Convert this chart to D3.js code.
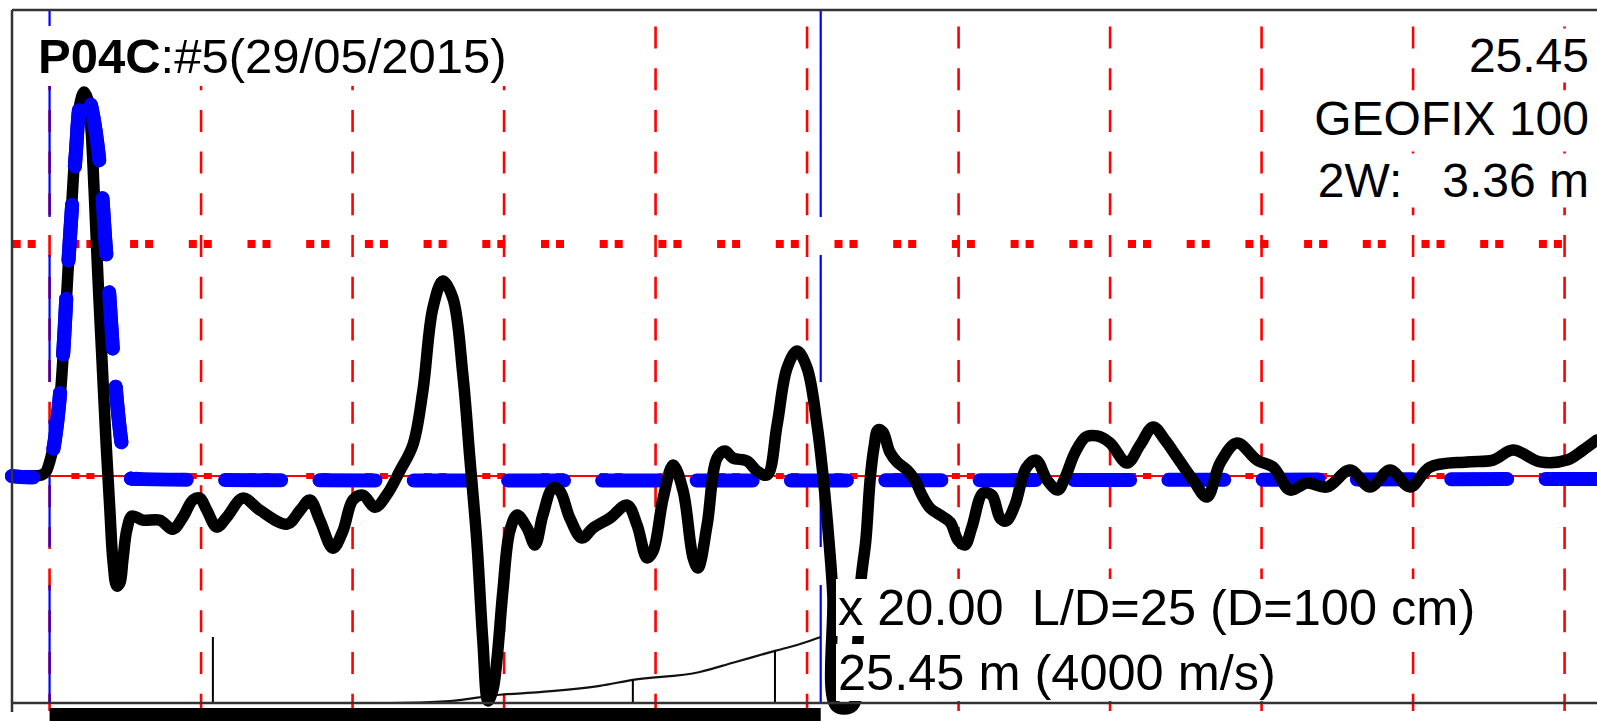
<!DOCTYPE html>
<html>
<head>
<meta charset="utf-8">
<script src="https://cdn.jsdelivr.net/npm/d3@7"></script>
<style>
html, body { margin: 0; padding: 0; background: #fff; overflow: hidden; }
svg { display: block; }
text { font-family: "Liberation Sans", Arial, sans-serif; white-space: pre; }
</style>
</head>
<body>
<svg id="chart" width="1597" height="721"></svg>
<script>
// measured velocity trace: depth along pile (m) / normalised amplitude
var traceDepth = [-1.24, -0.65, -0.25, -0.12, 0.01, 0.18, 0.34, 0.48, 0.61, 0.74, 0.87, 1.00, 1.14, 1.27,
    1.37, 1.47, 1.60, 1.73, 1.86, 1.99, 2.09, 2.22, 2.32, 2.42, 2.55, 2.72, 3.08, 3.64, 4.07, 4.40,
    4.73, 4.96, 5.19, 5.52, 5.85, 6.38, 6.94, 7.84, 8.27, 8.59, 8.92, 9.35, 9.68, 10.01, 10.34, 10.74,
    11.14, 11.56, 11.99, 12.32, 12.65, 12.98, 13.31, 13.64, 13.87, 14.10, 14.30, 14.47, 14.63, 14.77,
    14.96, 15.19, 15.43, 15.76, 16.02, 16.28, 16.61, 16.84, 17.17, 17.57, 17.93, 18.49, 19.06, 19.39,
    19.72, 19.92, 20.25, 20.58, 20.91, 21.24, 21.40, 21.70, 22.03, 22.29, 22.55, 23.02, 23.35, 23.68,
    24.01, 24.34, 24.67, 25.00, 25.33, 25.53, 25.72, 25.85, 25.95, 26.51, 26.68, 26.78, 26.94, 27.08,
    27.21, 27.34, 27.50, 27.73, 27.97, 28.30, 28.56, 28.79, 29.06, 29.39, 29.72, 29.98, 30.21, 30.44,
    30.81, 31.10, 31.37, 31.57, 31.86, 32.23, 32.56, 32.92, 33.28, 33.51, 33.84, 34.20, 34.57, 35.00,
    35.56, 35.99, 36.42, 36.81, 37.21, 37.74, 38.20, 38.63, 39.19, 39.85, 40.38, 40.94, 41.50, 42.16,
    42.92, 43.58, 44.24, 44.90, 45.56, 46.78, 47.64, 48.30, 49.19, 50.08, 50.61, 51.07];
var traceAmp = [0, 0, 0.005, 0.018, 0.065, 0.164, 0.328, 0.587, 0.888, 1.190, 1.449, 1.604, 1.656, 1.621,
    1.492, 1.233, 0.845, 0.500, 0.156, -0.146, -0.362, -0.474, -0.461, -0.362, -0.232, -0.172, -0.190, -0.190, -0.229, -0.177,
    -0.103, -0.095, -0.147, -0.220, -0.177, -0.095, -0.147, -0.207, -0.147, -0.103, -0.190, -0.311, -0.237, -0.103, -0.082, -0.134,
    -0.078, 0.022, 0.134, 0.367, 0.724, 0.841, 0.767, 0.436, 0.078, -0.280, -0.711, -0.969, -0.922, -0.784,
    -0.496, -0.237, -0.168, -0.224, -0.297, -0.168, -0.051, -0.064, -0.181, -0.267, -0.224, -0.181, -0.125, -0.211,
    -0.353, -0.323, -0.095, 0.048, -0.064, -0.353, -0.396, -0.211, 0.078, 0.108, 0.078, 0.065, 0.022, 0.005,
    0.220, 0.466, 0.539, 0.466, 0.220, -0.004, -0.276, -0.513, -0.991, -0.991, -0.706, -0.448, -0.276, -0.017,
    0.125, 0.199, 0.190, 0.104, 0.061, 0.026, -0.017, -0.082, -0.138, -0.168, -0.198, -0.276, -0.297, -0.220,
    -0.073, -0.082, -0.181, -0.194, -0.125, 0.035, 0.069, -0.017, -0.060, -0.008, 0.100, 0.169, 0.173, 0.143,
    0.056, 0.134, 0.212, 0.156, 0.082, -0.017, -0.090, 0.056, 0.143, 0.069, 0.039, -0.060, -0.030, -0.047,
    0.026, -0.047, 0.026, -0.047, 0.039, 0.061, 0.069, 0.112, 0.061, 0.069, 0.112, 0.156];

// reference pulse (blue)
var pulseDepth = [-1.24, -0.32, -0.09, 0.08, 0.24, 0.44, 0.57, 0.71, 0.87, 1.00, 1.14, 1.27, 1.40, 1.56,
    1.70, 1.83, 1.96, 2.09, 2.22, 2.36, 2.49, 2.65, 2.92, 51.07];
var pulseAmp = [0, 0, 0.031, 0.091, 0.220, 0.513, 0.810, 1.103, 1.397, 1.604, 1.664, 1.643, 1.578, 1.449,
    1.276, 1.030, 0.802, 0.543, 0.328, 0.156, 0.048, -0.008, -0.012, -0.012];

// amplification curve and markers
var gainDepth = [0, 11.27, 13.21, 14.86, 16.18, 18.16, 19.25, 21.46, 22.55, 23.94, 24.77, 25.45];
var gainValue = [0, 0, 0.6, 2.5, 3.3, 5.2, 7.0, 9.4, 12.2, 15.8, 17.9, 20];
var markerDepth = [5.39, 19.25, 23.94];
var markerGain = [20, 7.0, 15.8];

var gridDepths = [0, 5, 10, 15, 20, 25, 30, 35, 40, 45, 50];
var refLevels = [1, 0];
var pileLength = 25.45;
var pulseEnd = 2.92;
var dashCentre = 47.17;

var titleId = "P04C";
var titleRest = ":#5(29/05/2015)";
var infoLines = ["25.45", "GEOFIX 100", "2W:   3.36 m"];
var noteLines = ["x 20.00  L/D=25 (D=100 cm)", "25.45 m (4000 m/s)"];

var svg = d3.select("#chart");
var W = 1597, yTop = 10, yBottom = 703, xLeft = 12;

var x = d3.scaleLinear().domain([-1.24, 51.07]).range([xLeft, W]);
var y = d3.scaleLinear().domain([-0.978, 2.009]).range([yBottom, yTop]);
var g = d3.scaleLinear().domain([0, 20]).range([yBottom, 637]);

var trace = traceDepth.map(function (d, i) { return [d, traceAmp[i]]; });
var pulse = pulseDepth.map(function (d, i) { return [d, pulseAmp[i]]; });
var gain = gainDepth.map(function (d, i) { return [d, gainValue[i]]; });

// vertical grid
svg.append("g").selectAll("line").data(gridDepths).enter().append("line")
    .attr("x1", d => x(d)).attr("x2", d => x(d))
    .attr("y1", 26.5).attr("y2", 711)
    .attr("stroke", "#ff0000").attr("stroke-width", 2.6)
    .attr("stroke-dasharray", "22,19.7");

// blue markers at pile head and toe
svg.append("g").selectAll("line").data([0, pileLength]).enter().append("line")
    .attr("x1", d => x(d)).attr("x2", d => x(d))
    .attr("y1", yTop).attr("y2", yBottom)
    .attr("stroke", "#0000ff").attr("stroke-width", 2.2)
    .attr("stroke-dasharray", "207,38,127,38,127,38,127,38");

// zero line + dotted reference levels
svg.append("line")
    .attr("x1", xLeft).attr("x2", W).attr("y1", y(0)).attr("y2", y(0))
    .attr("stroke", "#ff0000").attr("stroke-width", 2);
svg.append("g").selectAll("line").data(refLevels).enter().append("line")
    .attr("x1", xLeft + 0.7).attr("x2", W).attr("y1", d => y(d)).attr("y2", d => y(d))
    .attr("stroke", "#ff0000").attr("stroke-width", d => d === 0 ? 6 : 8)
    .attr("stroke-dasharray", "8,7,8,35.7");

// amplification curve
svg.append("path").datum(gain)
    .attr("d", d3.line().x(d => x(d[0])).y(d => g(d[1])).curve(d3.curveMonotoneX))
    .attr("fill", "none").attr("stroke", "#111").attr("stroke-width", 2.2);
svg.append("g").selectAll("line").data(markerDepth).enter().append("line")
    .attr("x1", d => x(d)).attr("x2", d => x(d))
    .attr("y1", (d, i) => g(markerGain[i])).attr("y2", yBottom)
    .attr("stroke", "#000").attr("stroke-width", 2);

// pile bar
svg.append("rect")
    .attr("x", x(0)).attr("y", 708)
    .attr("width", x(pileLength) - x(0)).attr("height", 20)
    .attr("fill", "#000");

var line = d3.line().x(d => x(d[0])).y(d => y(d[1])).curve(d3.curveCatmullRom.alpha(0.5));

// blue dash phase so dashes sit where they do in the original
var pulseHead = pulse.filter(d => d[0] <= pulseEnd);
var tmp = svg.append("path").attr("d", line(pulseHead));
var L0 = tmp.node().getTotalLength();
tmp.remove();
var dashOn = 56, dashOff = 38.3, period = dashOn + dashOff;
var Ld = L0 + (x(dashCentre) - dashOn / 2 - x(pulseEnd));
var dashOffset = period - (Ld % period);

function bluePath(data) {
    svg.append("path").datum(data)
        .attr("d", line)
        .attr("fill", "none").attr("stroke", "#0000ff").attr("stroke-width", 14)
        .attr("stroke-linecap", "round").attr("stroke-linejoin", "round")
        .attr("stroke-dasharray", dashOn + "," + dashOff)
        .attr("stroke-dashoffset", dashOffset);
}
bluePath(pulse);

// measured trace
svg.append("path").datum(trace)
    .attr("d", line)
    .attr("fill", "none").attr("stroke", "#000").attr("stroke-width", 11.5)
    .attr("stroke-linecap", "round").attr("stroke-linejoin", "round");

bluePath(pulseHead);

// labels with white boxes behind
function label(parent, tx, ty, anchor, size, parts, padX, padY) {
    var grp = parent.append("g");
    var t = grp.append("text")
        .attr("x", tx).attr("y", ty)
        .attr("text-anchor", anchor)
        .attr("font-size", size)
        .attr("xml:space", "preserve")
        .attr("fill", "#000");
    parts.forEach(function (p) {
        t.append("tspan").attr("font-weight", p.bold ? "bold" : "normal").text(p.text);
    });
    var bb = t.node().getBBox();
    grp.insert("rect", "text")
        .attr("x", bb.x - padX).attr("y", bb.y - padY)
        .attr("width", bb.width + 2 * padX).attr("height", bb.height + 2 * padY)
        .attr("fill", "#fff");
}

var labels = svg.append("g");
label(labels, 38, 73, "start", 49, [{ text: titleId, bold: true }, { text: titleRest }], 3, 3);
infoLines.forEach(function (s, i) {
    label(labels, 1589, 72 + i * 62.5, "end", 48, [{ text: s }], 2, 0.5);
});
noteLines.forEach(function (s, i) {
    label(labels, 838, 625 + i * 65, "start", 50.5, [{ text: s }], 2, 0);
});

// frame
var frame = svg.append("g").attr("stroke", "#333").attr("stroke-width", 2.5).attr("fill", "none");
frame.append("line").attr("x1", xLeft).attr("x2", xLeft).attr("y1", yTop).attr("y2", 712);
frame.append("line").attr("x1", xLeft).attr("x2", W).attr("y1", yTop).attr("y2", yTop);
frame.append("line").attr("x1", xLeft).attr("x2", W).attr("y1", yBottom).attr("y2", yBottom);
</script>
</body>
</html>
